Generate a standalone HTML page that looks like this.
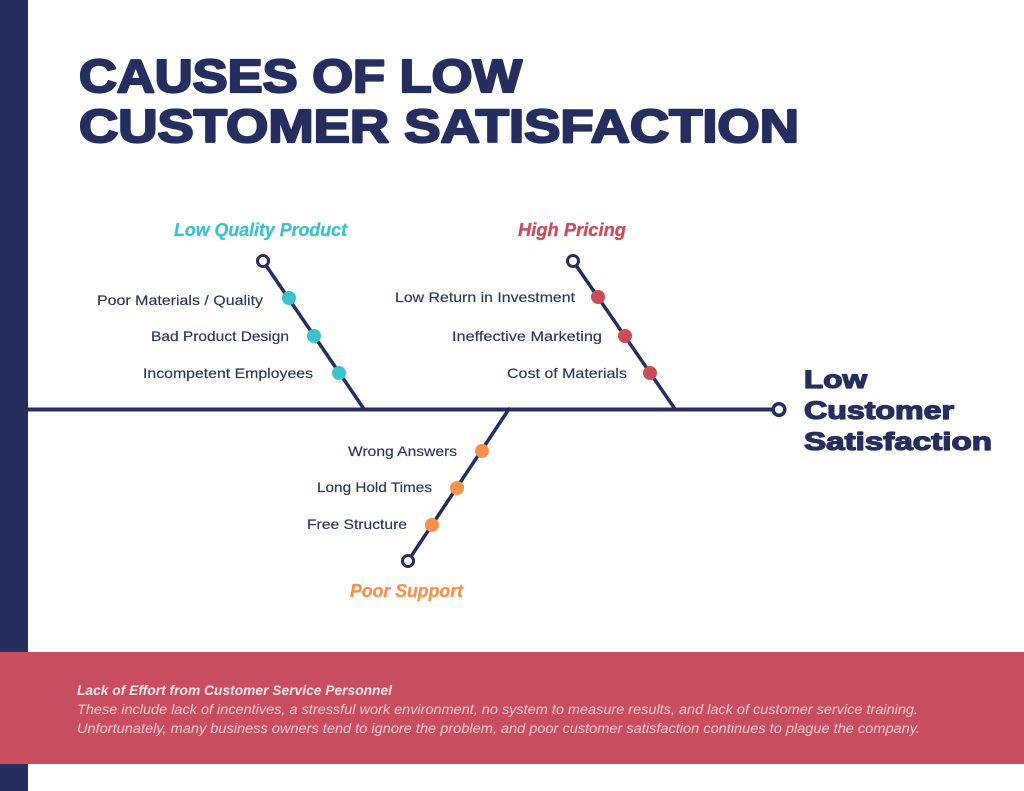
<!DOCTYPE html>
<html>
<head>
<meta charset="utf-8">
<style>
  html,body{margin:0;padding:0;background:#fff;}
  body{width:1024px;height:791px;overflow:hidden;position:relative;}
  svg{display:block;}
</style>
</head>
<body>
<svg width="1024" height="791" viewBox="0 0 1024 791" xmlns="http://www.w3.org/2000/svg">
  <rect x="0" y="0" width="1024" height="791" fill="#ffffff"/>
  <!-- left sidebar -->
  <rect x="0" y="0" width="28" height="791" fill="#252e5f"/>

  <!-- title -->
  <g font-family="'Liberation Sans', sans-serif" font-weight="bold" fill="#252e5f" stroke="#252e5f" stroke-width="2.2" stroke-linejoin="round" font-size="46">
    <text x="79" y="92" textLength="443" lengthAdjust="spacingAndGlyphs">CAUSES OF LOW</text>
    <text x="79" y="142" textLength="720" lengthAdjust="spacingAndGlyphs">CUSTOMER SATISFACTION</text>
  </g>

  <!-- main spine -->
  <rect x="28" y="407.5" width="746" height="4" fill="#252e5f"/>
  <circle cx="779" cy="409.5" r="5.8" fill="#fff" stroke="#252e5f" stroke-width="3.5"/>

  <!-- branches -->
  <g stroke="#252e5f" stroke-width="3.5" stroke-linecap="round" fill="none">
    <line x1="263" y1="261" x2="364" y2="409"/>
    <line x1="573" y1="261" x2="675" y2="409"/>
    <line x1="408" y1="561" x2="509" y2="409"/>
  </g>
  <g fill="#fff" stroke="#252e5f" stroke-width="3">
    <circle cx="263" cy="261" r="5.5"/>
    <circle cx="573" cy="261" r="5.5"/>
    <circle cx="408" cy="561" r="5.5"/>
  </g>

  <!-- dots -->
  <g fill="#3cc2cb">
    <circle cx="289" cy="298" r="7"/>
    <circle cx="314" cy="336" r="7"/>
    <circle cx="339" cy="373" r="7"/>
  </g>
  <g fill="#cc4b5b">
    <circle cx="598" cy="297" r="7"/>
    <circle cx="625" cy="336" r="7"/>
    <circle cx="650" cy="373" r="7"/>
  </g>
  <g fill="#f7914e">
    <circle cx="482" cy="451" r="7"/>
    <circle cx="457" cy="488" r="7"/>
    <circle cx="432" cy="525" r="7"/>
  </g>

  <!-- branch headings -->
  <g font-family="'Liberation Sans', sans-serif" font-weight="bold" font-style="italic" font-size="18" stroke-width="0.3">
    <text x="174" y="236" fill="#3cc2cb" stroke="#3cc2cb" textLength="173" lengthAdjust="spacingAndGlyphs">Low Quality Product</text>
    <text x="518" y="236" fill="#cc4b5b" stroke="#cc4b5b" textLength="108" lengthAdjust="spacingAndGlyphs">High Pricing</text>
    <text x="350" y="597" fill="#f7914e" stroke="#f7914e" textLength="113" lengthAdjust="spacingAndGlyphs">Poor Support</text>
  </g>

  <!-- item labels -->
  <g font-family="'Liberation Sans', sans-serif" font-size="14" fill="#2c355f" stroke="#2c355f" stroke-width="0.15">
    <text x="97" y="305" textLength="166" lengthAdjust="spacingAndGlyphs">Poor Materials / Quality</text>
    <text x="151" y="341" textLength="138" lengthAdjust="spacingAndGlyphs">Bad Product Design</text>
    <text x="143" y="378" textLength="170" lengthAdjust="spacingAndGlyphs">Incompetent Employees</text>
    <text x="395" y="302" textLength="180" lengthAdjust="spacingAndGlyphs">Low Return in Investment</text>
    <text x="452" y="341" textLength="150" lengthAdjust="spacingAndGlyphs">Ineffective Marketing</text>
    <text x="507" y="378" textLength="120" lengthAdjust="spacingAndGlyphs">Cost of Materials</text>
    <text x="348" y="456" textLength="109" lengthAdjust="spacingAndGlyphs">Wrong Answers</text>
    <text x="317" y="492" textLength="115" lengthAdjust="spacingAndGlyphs">Long Hold Times</text>
    <text x="307" y="529" textLength="100" lengthAdjust="spacingAndGlyphs">Free Structure</text>
  </g>

  <!-- effect label -->
  <g font-family="'Liberation Sans', sans-serif" font-weight="bold" font-size="25" fill="#252e5f" stroke="#252e5f" stroke-width="1.3" stroke-linejoin="round">
    <text x="804" y="388" textLength="63" lengthAdjust="spacingAndGlyphs">Low</text>
    <text x="804" y="419" textLength="150" lengthAdjust="spacingAndGlyphs">Customer</text>
    <text x="804" y="450" textLength="188" lengthAdjust="spacingAndGlyphs">Satisfaction</text>
  </g>

  <!-- bottom band -->
  <rect x="0" y="652" width="1024" height="112" fill="#c84e5f"/>
  <g font-family="'Liberation Sans', sans-serif" font-style="italic" font-size="13.5">
    <text x="77" y="695" fill="#f6e6e8" font-weight="bold" textLength="315" lengthAdjust="spacingAndGlyphs">Lack of Effort from Customer Service Personnel</text>
    <text x="77" y="714" fill="#f0c9cf" textLength="841" lengthAdjust="spacingAndGlyphs">These include lack of incentives, a stressful work environment, no system to measure results, and lack of customer service training.</text>
    <text x="77" y="733" fill="#f0c9cf" textLength="843" lengthAdjust="spacingAndGlyphs">Unfortunately, many business owners tend to ignore the problem, and poor customer satisfaction continues to plague the company.</text>
  </g>
</svg>
</body>
</html>
